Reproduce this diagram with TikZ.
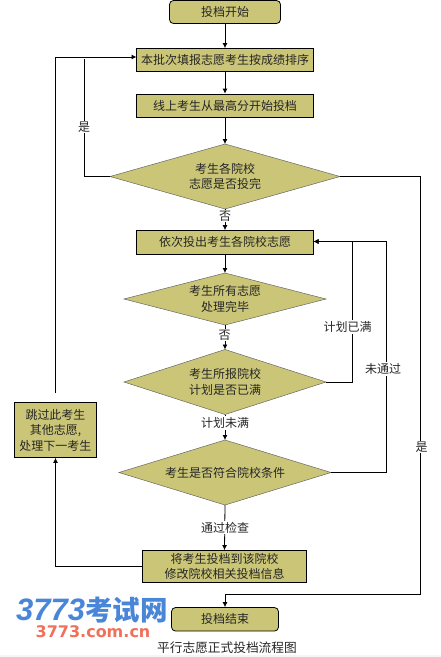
\documentclass[tikz,border=0pt]{standalone}
\usepackage{fontspec}
\setmainfont{Noto Sans CJK SC}
\newfontfamily\logofont{DejaVu Sans}
\newfontfamily\digitfont{Liberation Sans}
\usetikzlibrary{shapes.geometric,arrows.meta}
\definecolor{olive}{HTML}{CBC677}
\definecolor{logoblue}{HTML}{4A86D8}
\definecolor{logored}{HTML}{F0705A}
\tikzset{
  x=1pt,y=-1pt,
  txt/.style={font=\fontsize{12}{15.5}\selectfont,text=black!85,align=center,inner sep=0pt},
  plainbox/.style={txt,draw=black,line width=0.8pt,fill=olive,minimum width=#1},
  stadium/.style={plainbox=#1,rounded corners=4pt},
  link/.style={draw=black,line width=0.8pt},
  arrowed/.style={link,-{Latex[length=5pt,width=5pt]}},
  tag/.style={txt,fill=white,inner sep=1pt},
}
\newcommand{\diam}[6]{% name, cx, cy, halfw, halfh, text
  \path[draw=black!60,line width=0.5pt,fill=olive] (#2-#4,#3) -- (#2,#3-#5) -- (#2+#4,#3) -- (#2,#3+#5) -- cycle;
  \node[txt] at (#2,#3) {#6};
  \coordinate (#1w) at (#2-#4,#3);
  \coordinate (#1e) at (#2+#4,#3);
  \coordinate (#1n) at (#2,#3-#5);
  \coordinate (#1s) at (#2,#3+#5);
}
\begin{document}
\begin{tikzpicture}
\useasboundingbox (0,0) rectangle (441,657);
\fill[black!4] (0,654.5) rectangle (441,657);

\node[stadium=111pt,minimum height=23pt] (start) at (225,12) {投档开始};
\node[plainbox=177pt,minimum height=23pt] (rank) at (225,60) {本批次填报志愿考生按成绩排序};
\node[plainbox=177pt,minimum height=23pt] (top) at (225,105.5) {线上考生从最高分开始投档};
\diam{done}{225}{176.5}{115}{32.5}{考生各院校\\志愿是否投完}
\node[plainbox=177pt,minimum height=23.5pt] (each) at (225,242.3) {依次投出考生各院校志愿};
\diam{all}{225}{299}{101}{26}{考生所有志愿\\处理完毕}
\diam{plan}{225}{382}{101}{32.5}{考生所报院校\\计划是否已满}
\diam{cond}{225}{472.5}{106}{32.5}{考生是否符合院校条件}
\node[plainbox=164pt,minimum height=32pt] (file) at (224.5,566.5) {将考生投档到该院校\\修改院校相关投档信息};
\node[stadium=107pt,minimum height=23.5pt] (end) at (225,619.3) {投档结束};
\node[plainbox=82pt,minimum height=55pt] (skip) at (55.5,430) {跳过此考生\\其他志愿,\\处理下一考生};

\coordinate (rankin) at (136.5,57);
\coordinate (rankstop) at (84,58.5);
\coordinate (eachin) at (313.5,241.5);
\coordinate (skipgap) at (55.5,393);
\coordinate (downright) at (420.5,594.5);

\draw[arrowed] (start.south) -- (rank.north);
\draw[arrowed] (rank.south) -- (top.north);
\draw[arrowed] (top.south) -- (donen);
\draw[arrowed] (dones) -- (each.north);
\draw[arrowed] (each.south) -- (alln);
\draw[arrowed] (alls) -- (plann);
\draw[arrowed] (plans) -- (condn);
\draw[arrowed] (conds) -- (file.north);
\draw[arrowed] (file.west) -| (skip.south);
\draw[arrowed] (skipgap) |- (rankin);
\draw[link] (donew) -| (rankstop);
\draw[link] (donee) -| (downright);
\draw[arrowed] (downright) -| (end.north);
\draw[arrowed] (plane) -| (352.5,241.5) -- (eachin);
\draw[arrowed] (conde) -| (386.5,241.5) -- (eachin);

\node[tag] at (84,127) {是};
\node[tag] at (225,216) {否};
\node[tag] at (224.5,335) {否};
\node[tag] at (225,423) {计划未满};
\node[tag] at (347.5,327) {计划已满};
\node[tag] at (383,369) {未通过};
\node[tag] at (421.5,447) {是};
\node[tag] at (225,527.5) {通过检查};

\node[inner sep=0pt,text=logoblue,anchor=base west] at (16,620) {\fontsize{31}{31}\selectfont\digitfont\itshape\bfseries 3773\fontspec{Noto Sans CJK SC}\fontsize{27.5}{28}\selectfont 考试网};
\node[inner sep=0pt,text=logored] at (93,632) {\fontsize{16}{16}\selectfont\logofont\bfseries 3773.com.cn};
\node[txt,font=\fontsize{12.7}{15}\selectfont] at (227,648) {平行志愿正式投档流程图};
\end{tikzpicture}
\end{document}
